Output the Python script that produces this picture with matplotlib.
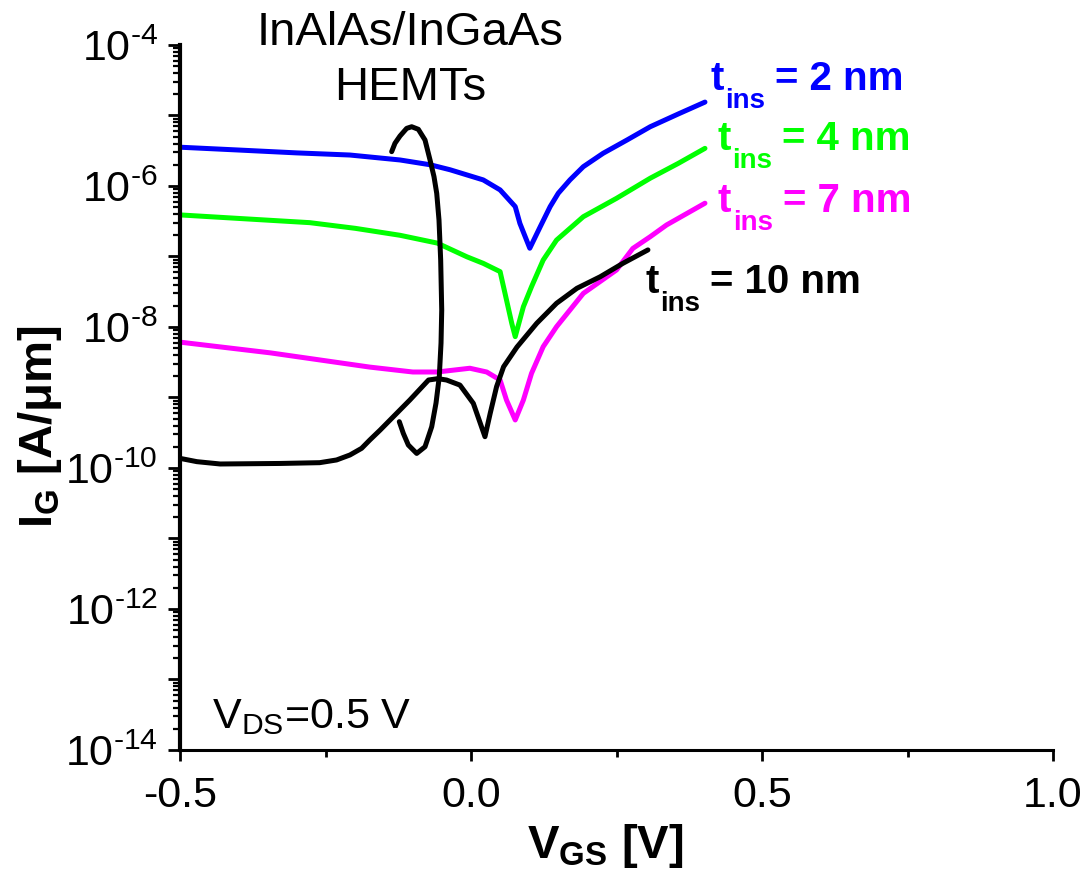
import numpy as np
import matplotlib
matplotlib.use("Agg")
import matplotlib.pyplot as plt
from matplotlib.ticker import FixedLocator, FuncFormatter, LogLocator, MultipleLocator

plt.rcParams['font.family'] = ['Liberation Sans', 'DejaVu Sans']
plt.rcParams['mathtext.fontset'] = 'custom'
plt.rcParams['mathtext.rm'] = 'Liberation Sans'
plt.rcParams['mathtext.bf'] = 'Liberation Sans:bold'
plt.rcParams['mathtext.it'] = 'Liberation Sans:italic'
plt.rcParams['axes.unicode_minus'] = False

# gate current I_G [A/um] vs V_GS [V]
vgs_2nm = [-0.5, -0.4, -0.3, -0.208, -0.122, -0.070, -0.036, 0.021, 0.050, 0.076,
           0.084, 0.101, 0.119, 0.136, 0.150, 0.170, 0.193, 0.227, 0.268, 0.308,
           0.356, 0.402]
ig_2nm = [3.55e-6, 3.24e-6, 2.95e-6, 2.75e-6, 2.34e-6, 2.0e-6, 1.7e-6, 1.22e-6,
          8.8e-7, 5.1e-7, 2.95e-7, 1.31e-7, 2.65e-7, 5.1e-7, 7.9e-7, 1.22e-6,
          1.88e-6, 2.91e-6, 4.49e-6, 6.93e-6, 1.05e-5, 1.55e-5]

vgs_4nm = [-0.5, -0.4, -0.277, -0.199, -0.122, -0.058, -0.007, 0.021, 0.050,
           0.061, 0.070, 0.076, 0.090, 0.104, 0.124, 0.147, 0.193, 0.250, 0.308,
           0.356, 0.402]
ig_4nm = [3.89e-7, 3.47e-7, 3.02e-7, 2.51e-7, 2.0e-7, 1.55e-7, 9.9e-8, 8.0e-8,
          6.1e-8, 2.42e-8, 1.13e-8, 7.3e-9, 1.94e-8, 3.73e-8, 8.9e-8, 1.71e-7,
          3.67e-7, 6.68e-7, 1.29e-6, 2.09e-6, 3.42e-6]

vgs_7nm = [-0.5, -0.345, -0.174, -0.100, -0.058, -0.002, 0.027, 0.050, 0.061,
           0.076, 0.090, 0.104, 0.124, 0.147, 0.193, 0.250, 0.278, 0.308, 0.336,
           0.402]
ig_7nm = [6.1e-9, 4.3e-9, 2.7e-9, 2.3e-9, 2.3e-9, 2.6e-9, 2.3e-9, 1.77e-9,
          9.2e-10, 4.8e-10, 9.2e-10, 2.2e-9, 5.25e-9, 1.01e-8, 3.0e-8, 6.44e-8,
          1.3e-7, 1.91e-7, 2.8e-7, 5.7e-7]

vgs_10nm = [-0.5, -0.471, -0.431, -0.328, -0.260, -0.231, -0.208, -0.188, -0.174,
            -0.156, -0.139, -0.105, -0.073, -0.057, -0.042, -0.019, 0.004, 0.024,
            0.033, 0.044, 0.056, 0.079, 0.113, 0.147, 0.182, 0.222, 0.261, 0.304]
ig_10nm = [1.37e-10, 1.23e-10, 1.14e-10, 1.16e-10, 1.19e-10, 1.30e-10, 1.53e-10,
           1.90e-10, 2.49e-10, 3.46e-10, 4.80e-10, 9.23e-10, 1.77e-9, 1.85e-9,
           1.77e-9, 1.50e-9, 8.26e-10, 2.78e-10, 5.96e-10, 1.43e-9, 2.73e-9,
           5.2e-9, 1.13e-8, 2.17e-8, 3.54e-8, 5.16e-8, 8.0e-8, 1.24e-7]

# InAlAs/InGaAs HEMT trace (the tall loop)
vgs_hemt = [-0.1363, -0.1306, -0.1220, -0.1105, -0.1019, -0.0905, -0.0790, -0.0704,
            -0.0636, -0.0589, -0.0550, -0.0521, -0.0503, -0.0515, -0.0545, -0.0601,
            -0.0675, -0.0790, -0.0933, -0.1077, -0.1163, -0.1232]
ig_hemt = [3.07e-6, 4.04e-6, 5.12e-6, 6.57e-6, 6.93e-6, 6.37e-6, 4.49e-6, 2.34e-6,
           1.36e-6, 7.87e-7, 3.30e-7, 8.9e-8, 1.74e-8, 5.93e-9, 1.97e-9, 8.35e-10,
           3.85e-10, 2.0e-10, 1.61e-10, 2.12e-10, 3.10e-10, 4.54e-10]

curve_labels = ["2", "4", "7", "10"]
curve_colors = ["#0000ff", "#00ff00", "#ff00ff", "#000000"]


def decade_label(value, pos):
    exponent = int(round(np.log10(value)))
    if exponent % 2:
        return ""
    return r"$10^{\text{-%d}}$" % abs(exponent)


def add_tins_label(ax, x, y, thickness, color):
    ax.annotate("t", (x, y), color=color, fontsize=29, fontweight='bold',
                va='baseline', ha='left', annotation_clip=False)
    ax.annotate("ins", (x, y), xytext=(11, -13), textcoords='offset points',
                color=color, fontsize=20, fontweight='bold', va='baseline',
                ha='left', annotation_clip=False)
    ax.annotate("= %s nm" % thickness, (x, y), xytext=(47, 0), textcoords='offset points',
                color=color, fontsize=29, fontweight='bold', va='baseline',
                ha='left', annotation_clip=False)


fig = plt.figure(figsize=(10.87, 8.77), dpi=100)
ax = fig.add_axes([180 / 1087, 1 - 750 / 877, 873 / 1087, 705 / 877])

series = [(vgs_2nm, ig_2nm), (vgs_4nm, ig_4nm), (vgs_7nm, ig_7nm), (vgs_10nm, ig_10nm)]
for (v, ig), color in zip(series, curve_colors):
    ax.plot(v, ig, color=color, lw=3.6, solid_joinstyle='round', solid_capstyle='round')
ax.plot(vgs_hemt, ig_hemt, color="black", lw=3.6, solid_joinstyle='round',
        solid_capstyle='round')

ax.set_yscale('log')
ax.set_xlim(-0.5, 1.0)
ax.set_ylim(1e-14, 1e-4)

ax.xaxis.set_major_locator(MultipleLocator(0.5))
ax.xaxis.set_minor_locator(MultipleLocator(0.25))
ax.xaxis.set_major_formatter(FuncFormatter(lambda v, p: "%.1f" % v))
ax.yaxis.set_major_locator(FixedLocator(10.0 ** np.arange(-14, -3)))
ax.yaxis.set_minor_locator(LogLocator(base=10, subs=np.arange(2, 10), numticks=100))
ax.yaxis.set_major_formatter(FuncFormatter(decade_label))

for side in ['top', 'right']:
    ax.spines[side].set_visible(False)
ax.spines['left'].set_linewidth(3.0)
ax.spines['bottom'].set_linewidth(2.2)

ax.tick_params(axis='both', which='major', direction='out', width=2.0, labelsize=31)
ax.tick_params(axis='y', which='major', length=9, pad=7)
ax.tick_params(axis='y', which='minor', direction='out', length=5, width=1.6)
ax.tick_params(axis='x', which='major', length=8, pad=11)
ax.tick_params(axis='x', which='minor', direction='out', length=5, width=2.0)

# curve labels
label_pos = [(0.411, 10 ** -4.64), (0.423, 10 ** -5.49), (0.424, 10 ** -6.37), (0.299, 10 ** -7.52)]
for name, color, (x, y) in zip(curve_labels, curve_colors, label_pos):
    add_tins_label(ax, x, y, name, color)

ax.text(32 / 873, 1 - (728 - 45) / 705, r"V$_{\mathrm{DS}}$=0.5 V",
        transform=ax.transAxes, fontsize=31, va='baseline', ha='left')

fig.text(410 / 1087, 1 - 45 / 877, "InAlAs/InGaAs", fontsize=34, ha='center', va='baseline')
fig.text(410 / 1087, 1 - 100 / 877, "HEMTs", fontsize=34, ha='center', va='baseline')

fig.text(605 / 1087, 1 - 858 / 877, r"V$_{\mathbf{GS}}$ [V]", fontsize=34,
         fontweight='bold', ha='center', va='baseline')
fig.text(40 / 1087, 1 - 427 / 877, r"I$_{\mathbf{G}}$ [A/μm]", fontsize=34,
         fontweight='bold', rotation=90, ha='center', va='center')

fig.savefig("out.png", dpi=100)
